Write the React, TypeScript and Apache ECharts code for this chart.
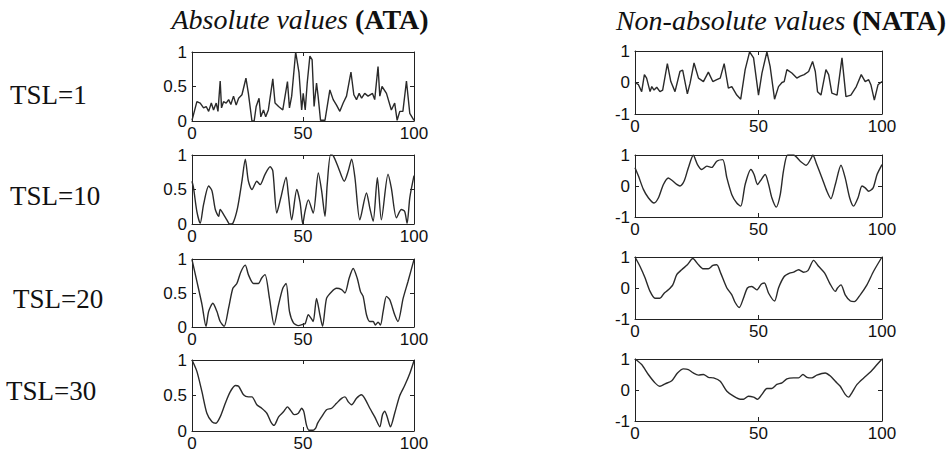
import React, { useEffect, useRef } from "react";
import * as echarts from "echarts";

// ---- data: [t, value] ----
const ataTsl1: number[][] = [
  [0, 0.01], [2.2, 0.28], [3.7, 0.26], [5.2, 0.19], [6.4, 0.21], [7.5, 0.14], [8.7, 0.26], [9.7, 0.16],
  [10.9, 0.26], [11.7, 0.14], [12.7, 0.58], [13.3, 0.19], [14.2, 0.28], [15.4, 0.26], [16.5, 0.31],
  [17.5, 0.24], [18.7, 0.36], [19.9, 0.23], [21, 0.33], [22.5, 0.38], [24.3, 0.62], [25.4, 0.4],
  [27, 0], [28, 0], [28.9, 0.21], [30.2, 0.33], [31, 0.06], [32.2, 0.16], [33.2, 0.06], [34.4, 0.16],
  [36.4, 0.61], [37.4, 0.26], [39, 0.21], [40.9, 0.16], [43, 0.57], [43.9, 0.19], [44.9, 0.36],
  [46.7, 1.0], [48.2, 0.7], [49.4, 0.16], [50.1, 0.4], [51, 0.16], [51.9, 0.55], [53.1, 0.94],
  [54.1, 0.89], [55, 0.21], [56.1, 0.55], [56.8, 0.36], [57.9, 0.01], [59.9, 0.01], [62.1, 0.45],
  [63.6, 0.31], [65.1, 0.23], [66.6, 0.14], [68.1, 0.26], [69.6, 0.36], [71.6, 0.71], [72.9, 0.38],
  [74.1, 0.31], [75.3, 0.4], [76.4, 0.33], [77.8, 0.4], [79.3, 0.36], [81.3, 0.4], [82.3, 0.31],
  [83.8, 0.79], [84.6, 0.36], [85.6, 0.5], [87.6, 0.4], [89.8, 0.16], [91.3, 0.26], [92.4, 0.01],
  [93.6, 0.14], [95, 0.14], [96.6, 0.58], [98.1, 0.11], [100, 0.01],
];

const ataTsl10: number[][] = [
  [0, 0.62], [0.7, 0.52], [2.2, 0.18], [3.7, 0.01], [5.2, 0.28], [7.5, 0.55], [9, 0.48], [10.5, 0.21],
  [12, 0.11], [12.7, 0.21], [14.2, 0.14], [15.7, 0.06], [16.9, 0], [18.4, 0.01], [20.5, 0.23],
  [22.5, 0.62], [24, 0.94], [25.4, 0.62], [27, 0.5], [29.2, 0.62], [30.7, 0.57], [32.9, 0.72],
  [35.2, 0.83], [36.4, 0.77], [38.2, 0.16], [40, 0.38], [42.4, 0.68], [43.4, 0.43], [44.9, 0.06],
  [47.2, 0.5], [48.7, 0.31], [49.9, 0], [50.9, 0.18], [52.4, 0.35], [54.6, 0.16], [56.9, 0.74],
  [58.4, 0.48], [59.9, 0.11], [60.9, 0.57], [62.4, 1.0], [63.6, 0.99], [65.9, 0.82], [68.6, 0.62],
  [70.4, 0.77], [71.9, 0.94], [73.4, 0.67], [75.6, 0.06], [78.6, 0.45], [80.1, 0.23], [81.6, 0.04],
  [83.5, 0.67], [85.3, 0.06], [88.3, 0.72], [89.8, 0.52], [92.1, 0.09], [94.3, 0.21], [95.8, 0.18],
  [96.9, 0.01], [98.1, 0.38], [100, 0.7],
];

const ataTsl20: number[][] = [
  [0, 0.99], [2.2, 0.67], [4.5, 0.33], [6.3, 0.01], [7.5, 0.23], [9.4, 0.35], [11.2, 0.23], [12.7, 0.08],
  [14.5, 0.01], [16.5, 0.28], [18.4, 0.57], [20.2, 0.64], [22, 0.81], [24, 0.91], [25.4, 0.77],
  [27.7, 0.64], [29.9, 0.64], [31.4, 0.72], [32.9, 0.77], [34.9, 0.42], [37, 0.03], [39, 0.33],
  [40.9, 0.57], [42.4, 0.64], [43.9, 0.23], [45.7, 0.06], [47.9, 0.02], [50.1, 0.04], [51, 0.05],
  [52.4, 0.18], [53.6, 0.13], [54.6, 0.08], [56.1, 0.42], [57.6, 0.18], [58.8, 0.01], [60.6, 0.42],
  [62.9, 0.52], [65.1, 0.57], [67.4, 0.55], [68.9, 0.5], [70.8, 0.72], [72.6, 0.86], [74.4, 0.72],
  [75.9, 0.52], [77.1, 0.45], [78.6, 0.18], [80.1, 0.08], [81.6, 0.08], [82.6, 0.03], [83.8, 0.07],
  [84.9, 0.03], [86.1, 0.23], [87.6, 0.45], [89.1, 0.4], [91.3, 0.18], [92.8, 0.08], [95.1, 0.42],
  [97.3, 0.67], [100, 0.99],
];

const ataTsl30: number[][] = [
  [0, 1.0], [2.2, 0.84], [4.5, 0.55], [6.7, 0.25], [9, 0.13], [10.8, 0.11], [12.7, 0.2], [15, 0.39],
  [17.2, 0.55], [19.5, 0.64], [21, 0.63], [23.2, 0.51], [25.4, 0.48], [27, 0.48], [29.2, 0.37],
  [31.4, 0.32], [33.7, 0.25], [35.5, 0.13], [37, 0.08], [39, 0.2], [41.2, 0.27], [43, 0.34],
  [44.2, 0.3], [46, 0.23], [47.9, 0.25], [49.4, 0.32], [50.4, 0.27], [51.6, 0.08], [52.8, 0.01],
  [54.6, 0.01], [55.7, 0.04], [56.6, 0.11], [58.4, 0.2], [60.6, 0.3], [62.9, 0.32], [65.1, 0.39],
  [67.4, 0.46], [68.9, 0.48], [70.4, 0.41], [71.9, 0.37], [74.1, 0.46], [76.3, 0.51], [77.8, 0.46],
  [80.1, 0.32], [82.3, 0.2], [84.6, 0.06], [85.8, 0.23], [86.8, 0.28], [87.9, 0.2], [89.4, 0.06],
  [91.3, 0.25], [93.6, 0.5], [95.8, 0.64], [98.1, 0.81], [100, 0.99],
];

const nataTsl1: number[][] = [
  [0, 0], [1.4, -0.07], [2.7, -0.29], [3.8, 0.25], [4.7, 0.14], [6.1, -0.29], [6.8, -0.13], [7.7, -0.24],
  [8.8, -0.15], [10.1, -0.29], [11.2, -0.24], [13.1, 0.6], [14.5, 0.03], [16.2, -0.29], [18.2, 0.35],
  [19.3, 0.39], [21.2, -0.36], [22.3, -0.02], [23.9, 0.62], [25.7, 0.14], [27.7, 0.03], [29.7, 0.33],
  [31.5, 0.03], [33.1, 0.09], [34.5, 0.14], [36.1, 0.6], [37.8, -0.18], [39.2, -0.13], [41.2, -0.4],
  [42.8, -0.53], [44.6, 0.41], [46.4, 0.97], [48, 0.78], [50, -0.4], [51.4, 0.3], [53.4, 0.97],
  [54.7, 0.51], [56.5, -0.53], [58.1, -0.13], [59.5, 0], [60.4, 0.03], [61.5, 0.41], [63.5, 0.3],
  [65.5, 0.14], [66.9, 0.2], [68.5, 0.25], [70.3, 0.35], [71.9, 0.67], [73, 0.35], [73.9, -0.29],
  [75.3, -0.4], [77.3, 0.41], [78.4, 0.25], [79.7, -0.34], [81.8, -0.4], [83.8, 0.78], [85.4, -0.45],
  [87.4, -0.4], [89.6, -0.13], [91.6, 0.25], [93.2, 0.03], [94.6, 0.09], [95.5, -0.07], [96.9, -0.56],
  [98.4, -0.07], [100, 0.03],
];

const nataTsl10: number[][] = [
  [0, 0.59], [1.4, 0.32], [3.4, -0.11], [5.4, -0.38], [7.7, -0.55], [9.5, -0.38], [11.5, 0.05],
  [13.5, 0.26], [15.3, 0.16], [16.9, 0.05], [18.2, 0], [19.9, 0.16], [21.6, 0.59], [23.6, 0.99],
  [25.3, 0.69], [27, 0.53], [29.1, 0.64], [31.1, 0.6], [33.1, 0.8], [35.5, 0.85], [37.2, 0.26],
  [39.2, -0.28], [41.2, -0.55], [42.8, -0.65], [44.6, 0.05], [46.9, 0.53], [48.2, 0.37], [49.6, 0.05],
  [50.7, 0.16], [52.7, 0.37], [54.1, 0.05], [55.4, -0.38], [57.2, -0.68], [58.8, -0.28], [60.1, 0.48],
  [61.8, 1.0], [64.2, 1.0], [66.9, 0.8], [69.3, 0.67], [71.4, 0.91], [72, 1.0], [73.6, 0.69],
  [75.7, 0.26], [77.7, -0.17], [79.3, -0.41], [81.1, 0.05], [83.4, 0.67], [85.1, 0.26], [86.9, -0.38],
  [88.5, -0.65], [90.3, -0.38], [91.9, 0], [93.2, -0.06], [94.6, -0.17], [96.4, -0.06], [98, 0.37],
  [100, 0.69],
];

const nataTsl20: number[][] = [
  [0, 1.0], [2, 0.7], [4.1, 0.32], [6.1, -0.11], [8.1, -0.33], [10.1, -0.33], [11.8, -0.17],
  [13.5, -0.06], [15.3, 0.1], [16.9, 0.43], [18.9, 0.59], [21.2, 0.75], [23.4, 0.95], [25.7, 0.75],
  [27.7, 0.62], [29.7, 0.62], [31.5, 0.73], [33.1, 0.75], [34.7, 0.48], [37.2, 0], [39.2, -0.22],
  [40.5, -0.46], [42.2, -0.63], [43.9, -0.33], [45.5, 0], [47.3, 0.05], [49.3, -0.06], [51.1, 0.12],
  [52.4, 0.16], [54.1, -0.17], [56.5, -0.42], [58.1, 0], [60.4, 0.37], [62.6, 0.48], [64.2, 0.51],
  [66.2, 0.59], [68.2, 0.51], [70, 0.56], [72.3, 0.89], [74.3, 0.7], [76.8, 0.48], [78.8, 0.16],
  [81.1, -0.11], [82, 0], [83.4, 0.1], [85.1, -0.22], [87.2, -0.42], [88.8, -0.44], [91.2, -0.22],
  [93.9, 0.1], [96.6, 0.54], [100, 1.0],
];

const nataTsl30: number[][] = [
  [0, 1.0], [2.7, 0.82], [5.4, 0.5], [8.1, 0.23], [10.1, 0.12], [12.2, 0.2], [14.9, 0.3], [17.2, 0.55],
  [19.6, 0.68], [21.6, 0.66], [23.6, 0.55], [25.7, 0.48], [27.7, 0.5], [29.7, 0.41], [31.8, 0.39],
  [34.5, 0.28], [37.2, -0.04], [39.9, -0.2], [42.6, -0.3], [43.9, -0.3], [45.9, -0.2], [48, -0.23],
  [49.6, -0.3], [51.4, -0.14], [53.4, 0.05], [55.4, 0.05], [57.4, 0.18], [59.5, 0.23], [61.5, 0.36],
  [64.2, 0.39], [66.2, 0.39], [68, 0.5], [69.6, 0.41], [71.6, 0.39], [73.6, 0.48], [77, 0.55],
  [79.1, 0.45], [81.1, 0.28], [83.1, 0.12], [85.1, -0.14], [86.5, -0.23], [87.8, -0.09], [89.9, 0.18],
  [92.6, 0.39], [95.3, 0.58], [98, 0.82], [100, 1.0],
];

const ataSeries = [ataTsl1, ataTsl10, ataTsl20, ataTsl30];
const nataSeries = [nataTsl1, nataTsl10, nataTsl20, nataTsl30];
const rowLabels = ["TSL=1", "TSL=10", "TSL=20", "TSL=30"];
const ataRange = [0, 1, 0.5];
const nataRange = [-1, 1, 1];
const xRange = [0, 100, 50];

export default function App() {
  const ref = useRef<HTMLDivElement>(null);
  useEffect(() => {
    const chart = echarts.init(ref.current!, null, { renderer: "svg" });
    const leftBoxes = [
      { top: 52, height: 69 },
      { top: 155, height: 69 },
      { top: 259, height: 68 },
      { top: 360, height: 71 },
    ];
    const rightBoxes = [
      { top: 51, height: 63 },
      { top: 155, height: 62 },
      { top: 257, height: 62 },
      { top: 359, height: 62 },
    ];
    const rowLabelPos = [
      { x: 10, y: 95 },
      { x: 10, y: 196 },
      { x: 13, y: 299 },
      { x: 6, y: 391 },
    ];
    const axisColor = "#222";
    const labelFont = { fontSize: 17, color: "#111", fontFamily: "Liberation Sans, Arial, sans-serif" };
    const grids: any[] = [];
    const xAxes: any[] = [];
    const yAxes: any[] = [];
    const series: any[] = [];

    const addPanel = (
      box: { top: number; height: number },
      left: number,
      width: number,
      range: number[],
      data: number[][],
      smooth: number | boolean
    ) => {
      const gi = grids.length;
      grids.push({ left, width, top: box.top, height: box.height, containLabel: false });
      const tick = { show: true, inside: true, length: 4, lineStyle: { color: axisColor } };
      const line = { show: true, onZero: false, lineStyle: { color: axisColor, width: 1 } };
      xAxes.push({
        gridIndex: gi, type: "value", position: "bottom", min: xRange[0], max: xRange[1], interval: xRange[2],
        axisLine: line, axisTick: tick, splitLine: { show: false },
        axisLabel: { ...labelFont, margin: 4, showMinLabel: true, showMaxLabel: true },
      });
      xAxes.push({
        gridIndex: gi, type: "value", position: "top", min: xRange[0], max: xRange[1], interval: xRange[2],
        axisLine: line, axisTick: tick, splitLine: { show: false }, axisLabel: { show: false },
      });
      yAxes.push({
        gridIndex: gi, type: "value", position: "left", min: range[0], max: range[1], interval: range[2],
        axisLine: line, axisTick: tick, splitLine: { show: false },
        axisLabel: { ...labelFont, margin: 5, showMinLabel: true, showMaxLabel: true },
      });
      yAxes.push({
        gridIndex: gi, type: "value", position: "right", min: range[0], max: range[1], interval: range[2],
        axisLine: line, axisTick: tick, splitLine: { show: false }, axisLabel: { show: false },
      });
      series.push({
        type: "line", xAxisIndex: gi * 2, yAxisIndex: gi * 2, data, smooth, symbol: "none", clip: true,
        lineStyle: { color: "#2a2a2a", width: 1.4 },
      });
    };

    for (let r = 0; r < 4; r++) {
      addPanel(leftBoxes[r], 192, 222, ataRange, ataSeries[r], r === 0 ? false : 0.25);
      addPanel(rightBoxes[r], 635, 247, nataRange, nataSeries[r], r === 0 ? false : 0.25);
    }

    const serif = "Liberation Serif, Times New Roman, serif";
    const titleRich = {
      i: { fontFamily: serif, fontStyle: "italic", fontSize: 28, fill: "#111" },
      b: { fontFamily: serif, fontWeight: "bold", fontSize: 28, fill: "#111" },
    };
    const graphic: any[] = [
      {
        type: "text", x: 300, y: 19,
        style: { text: "{i|Absolute values }{b|(ATA)}", verticalAlign: "middle", align: "center", rich: titleRich },
      },
      {
        type: "text", x: 781, y: 20,
        style: { text: "{i|Non-absolute values }{b|(NATA)}", verticalAlign: "middle", align: "center", rich: titleRich },
      },
      ...rowLabels.map((t, i) => ({
        type: "text", x: rowLabelPos[i].x, y: rowLabelPos[i].y,
        style: { text: t, fontFamily: serif, fontSize: 27, fill: "#111", verticalAlign: "middle", align: "left" },
      })),
    ];

    chart.setOption({
      animation: false,
      backgroundColor: "#ffffff",
      grid: grids,
      xAxis: xAxes,
      yAxis: yAxes,
      series,
      graphic,
    });
    return () => chart.dispose();
  }, []);
  return (
    <div
      ref={ref}
      style={{ position: "fixed", left: 0, top: 0, width: 952, height: 461, background: "#fff" }}
    />
  );
}
